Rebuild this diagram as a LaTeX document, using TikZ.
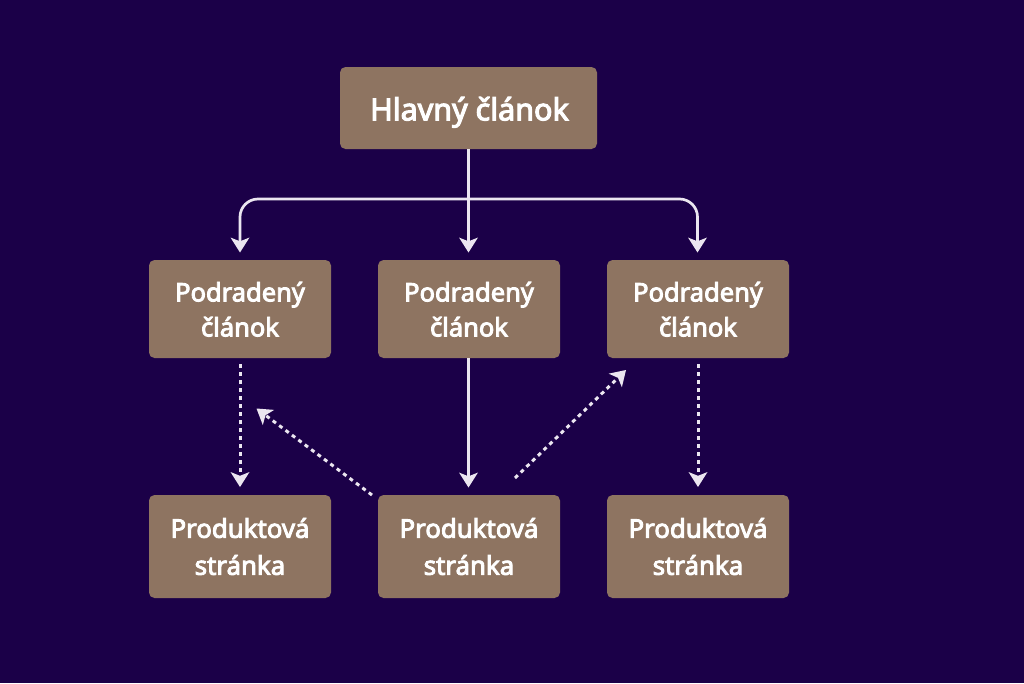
\documentclass[tikz,border=0pt]{standalone}
\usepackage{fontspec}
\setmainfont{Noto Sans}[RawFeature={embolden=3.5}]
\usetikzlibrary{arrows.meta}
\definecolor{bgc}{HTML}{1B0048}
\definecolor{boxc}{HTML}{8E7461}
\definecolor{linec}{HTML}{EBE6F0}
\tikzset{
  boxbase/.style={fill=boxc,rounded corners=5.5pt,inner sep=0pt,align=center,text=white},
  mainbox/.style={boxbase,minimum width=257pt,minimum height=82pt,font=\fontsize{30.5}{36}\selectfont},
  subbox/.style={boxbase,minimum width=182pt,minimum height=98pt,font=\fontsize{25.5}{35}\selectfont},
  prodbox/.style={boxbase,minimum width=182pt,minimum height=103pt,font=\fontsize{25.8}{37}\selectfont},
  link/.style={draw=linec,line width=2.7pt,-{Stealth[length=15pt,width=19pt,inset=3.8pt,fill=linec,line width=0pt]}},
  dotlink/.style={link,line width=3pt,dash pattern=on 4pt off 4pt},
}
\begin{document}
\begin{tikzpicture}[x=1pt,y=-1pt]
\useasboundingbox[fill=bgc] (0,0) rectangle (1024,683);
\node[mainbox] (main) at (468.5,108) {\rule{0pt}{32pt}\hspace{2pt}Hlavný článok};
\node[subbox] (s1) at (240,309) {\rule{0pt}{20pt}Podradený\\článok};
\node[subbox] (s2) at (469,309) {\rule{0pt}{20pt}Podradený\\článok};
\node[subbox] (s3) at (698,309) {\rule{0pt}{20pt}Podradený\\článok};
\node[prodbox] (p1) at (240,546.5) {Produktová\\stránka};
\node[prodbox] (p2) at (469,546.5) {Produktová\\stránka};
\node[prodbox] (p3) at (698,546.5) {Produktová\\stránka};
\coordinate (j) at (468.5,199);
\coordinate (a) at (240,252.5);
\coordinate (m) at (468.5,252.5);
\coordinate (b) at (697.5,252.5);
\coordinate (c) at (468.5,487.5);
\coordinate (d1s) at (240,364);
\coordinate (d1e) at (240,487);
\coordinate (d3s) at (698,364);
\coordinate (d3e) at (698,487);
\coordinate (l1s) at (372,495);
\coordinate (l1e) at (256.5,408.5);
\coordinate (r1s) at (515,478);
\coordinate (r1e) at (626,370);
\draw[link] (main.south) -- (m);
\draw[link,rounded corners=18pt] (j) -| (a);
\draw[link,rounded corners=18pt] (j) -| (b);
\draw[link] (c |- s2.south) -- (c);
\draw[dotlink] (d1s) -- (d1e);
\draw[dotlink] (d3s) -- (d3e);
\draw[dotlink] (l1s) -- (l1e);
\draw[dotlink] (r1s) -- (r1e);
\end{tikzpicture}
\end{document}
